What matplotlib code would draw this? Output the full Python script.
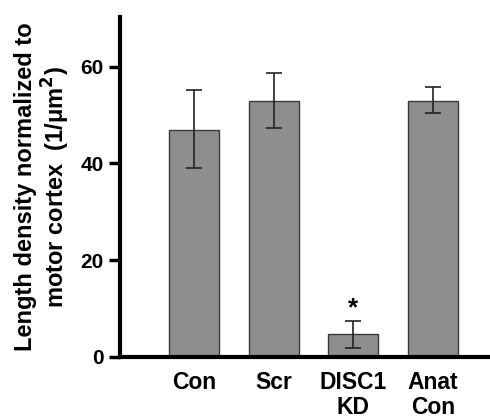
import matplotlib
matplotlib.use("Agg")
import matplotlib.pyplot as plt
import numpy as np

# values
groups = ["Con", "Scr", "DISC1\nKD", "Anat\nCon"]
means = [47.0, 52.8, 4.7, 53.0]
err_lo = [39.1, 47.3, 1.9, 50.5]
err_hi = [55.2, 58.7, 7.4, 55.7]
signif = [False, False, True, False]

plt.rcParams['font.family'] = ['Liberation Sans', 'DejaVu Sans']
plt.rcParams['font.weight'] = 'bold'

fig = plt.figure(figsize=(4.9, 4.2), dpi=100, facecolor='white')
ax = fig.add_axes([0.245, 0.15, 0.755, 0.81])

x = np.arange(len(groups))
means = np.array(means)
yerr = np.array([means - np.array(err_lo), np.array(err_hi) - means])

ax.bar(x, means, width=0.63, color='#8e8e8e', edgecolor='#3a3a3a', linewidth=1.0, zorder=2)
ax.errorbar(x, means, yerr=yerr, fmt='none', ecolor='#222222', elinewidth=1.2,
            capsize=6, capthick=1.2, zorder=3)

for xi, hi, s in zip(x, err_hi, signif):
    if s:
        ax.text(xi, hi + 0.2, "*", ha='center', va='bottom', fontsize=19, fontweight='bold')

ax.set_xlim(-0.93, 3.72)
ax.set_ylim(0, 70.3)
ax.set_yticks([0, 20, 40, 60])
ax.set_xticks(x)
ax.set_xticklabels(groups, fontsize=16.5, fontweight='bold', linespacing=1.1)
ax.tick_params(axis='x', length=0, pad=10)
ax.tick_params(axis='y', labelsize=15, width=2.5, length=8, direction='out', pad=4)

for side in ['top', 'right']:
    ax.spines[side].set_visible(False)
ax.spines['left'].set_linewidth(3)
ax.spines['bottom'].set_linewidth(3)

ax.set_ylabel("Length density normalized to\nmotor cortex  (1/\u03bcm$^{\\mathbf{2}}$)",
              fontsize=17, fontweight='bold', linespacing=1.1, labelpad=6)

fig.savefig('out.png', dpi=100, facecolor='white')
